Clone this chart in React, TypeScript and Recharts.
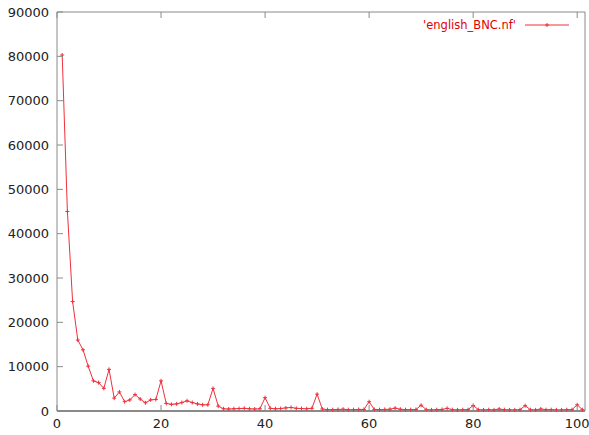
import { LineChart, Line, XAxis, YAxis } from 'recharts'

// rank on x, frequency on y (english_BNC.nf)
const ranks = Array.from({ length: 101 }, (_, i) => i + 1)
const freqs = [
  80300, 45000, 24700, 16000, 13800, 10100, 6800, 6400, 5100, 9400,
  2900, 4300, 2100, 2500, 3700, 2700, 1850, 2500, 2600, 6800,
  1700, 1500, 1600, 1900, 2300, 1900, 1600, 1400, 1400, 5100,
  1100, 500, 450, 500, 550, 600, 500, 450, 500, 3000,
  600, 500, 550, 700, 800, 600, 550, 500, 600, 3800,
  450, 300, 300, 350, 400, 300, 300, 350, 350, 2100,
  350, 300, 350, 400, 650, 400, 300, 300, 350, 1300,
  300, 250, 300, 350, 600, 300, 250, 300, 300, 1250,
  300, 250, 300, 250, 450, 300, 250, 250, 300, 1200,
  300, 250, 450, 300, 300, 250, 250, 300, 300, 1400,
  300,
]
const xTicks = [0, 20, 40, 60, 80, 100]
const yTicks = [0, 10000, 20000, 30000, 40000, 50000, 60000, 70000, 80000, 90000]
const seriesName = "'english_BNC.nf'"

const data = ranks.map((r, i) => ({ rank: r, freq: freqs[i], top: null as number | null }))

const RED = '#f0303c'
const FRAME = '#8a8a8a'
const FONT = 'DejaVu Sans, sans-serif'

function Cross({ cx, cy }: any) {
  if (cx == null || cy == null) return null
  return (
    <g stroke={RED} strokeWidth={1}>
      <line x1={cx - 2} x2={cx + 2} y1={cy} y2={cy} />
      <line x1={cx} x2={cx} y1={cy - 2} y2={cy + 2} />
    </g>
  )
}

function LeftTick({ x, y, payload }: any) {
  return (
    <g>
      <line x1={x} x2={x + 6} y1={y} y2={y} stroke={FRAME} />
      <text x={x - 8} y={y} dy="0.35em" textAnchor="end" fontSize={13} fontFamily={FONT} fill="#222">
        {payload.value}
      </text>
    </g>
  )
}

function RightTick({ x, y }: any) {
  return <line x1={x - 6} x2={x} y1={y} y2={y} stroke={FRAME} />
}

function BottomTick({ x, y, payload }: any) {
  return (
    <g>
      <line x1={x} x2={x} y1={y - 6} y2={y} stroke={FRAME} />
      <text x={x} y={y + 17} textAnchor="middle" fontSize={13} fontFamily={FONT} fill="#222">
        {payload.value}
      </text>
    </g>
  )
}

function TopTick({ x, y }: any) {
  return <line x1={x} x2={x} y1={y} y2={y + 6} stroke={FRAME} />
}

export default function App() {
  return (
    <div style={{ position: 'absolute', left: 0, top: 0, width: 589, height: 435, background: '#fff' }}>
      <LineChart width={589} height={435} data={data} margin={{ top: 11, right: 3, left: 0, bottom: 0 }}>
        <XAxis
          xAxisId="b"
          dataKey="rank"
          type="number"
          domain={[0, 101.5]}
          ticks={xTicks}
          height={24}
          tickSize={0}
          tickMargin={0}
          tickLine={false}
          tick={<BottomTick />}
          axisLine={{ stroke: FRAME, strokeWidth: 2 }}
          interval={0}
        />
        <XAxis
          xAxisId="t"
          dataKey="rank"
          orientation="top"
          type="number"
          domain={[0, 101.5]}
          ticks={xTicks}
          height={1}
          tickSize={0}
          tickMargin={0}
          tickLine={false}
          tick={<TopTick />}
          axisLine={{ stroke: FRAME }}
          interval={0}
        />
        <YAxis
          yAxisId="l"
          type="number"
          domain={[0, 90000]}
          ticks={yTicks}
          width={57}
          tickSize={0}
          tickMargin={0}
          tickLine={false}
          tick={<LeftTick />}
          axisLine={{ stroke: FRAME }}
          interval={0}
        />
        <YAxis
          yAxisId="r"
          orientation="right"
          type="number"
          domain={[0, 90000]}
          ticks={yTicks}
          width={1}
          tickSize={0}
          tickMargin={0}
          tickLine={false}
          tick={<RightTick />}
          axisLine={{ stroke: FRAME }}
          interval={0}
        />
        {/* empty series that anchors the mirrored top/right axes */}
        <Line
          xAxisId="t"
          yAxisId="r"
          dataKey="top"
          stroke="none"
          dot={false}
          legendType="none"
          isAnimationActive={false}
        />
        <Line
          xAxisId="b"
          yAxisId="l"
          type="linear"
          dataKey="freq"
          stroke={RED}
          strokeWidth={1}
          dot={<Cross />}
          isAnimationActive={false}
        />
      </LineChart>
      <div
        style={{
          position: 'absolute',
          left: 380,
          top: 17,
          width: 136,
          textAlign: 'right',
          color: '#e00000',
          fontFamily: FONT,
          fontSize: 11.5,
          lineHeight: '16px',
        }}
      >
        {seriesName}
      </div>
      <svg style={{ position: 'absolute', left: 524, top: 19 }} width={46} height={12}>
        <line x1={1} x2={45} y1={6} y2={6} stroke={RED} />
        <Cross cx={23} cy={6} />
      </svg>
    </div>
  )
}
